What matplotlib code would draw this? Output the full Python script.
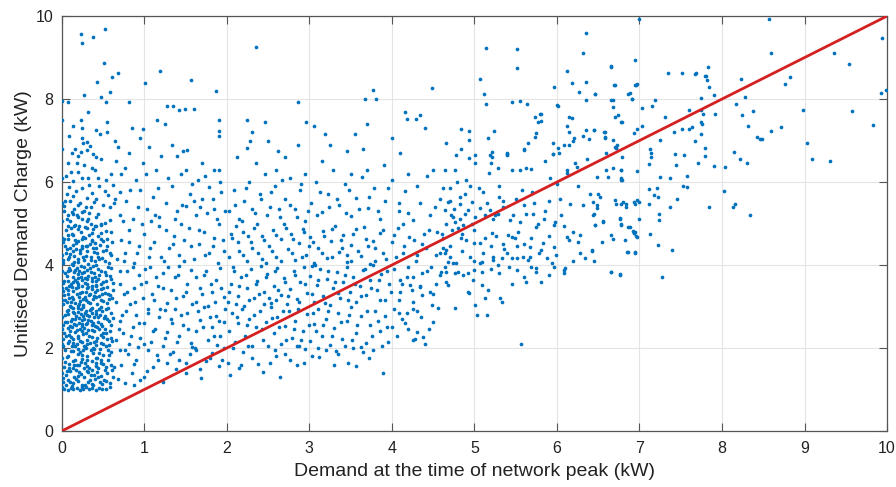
import numpy as np
import matplotlib.pyplot as plt

plt.rcParams['font.family'] = ['Liberation Sans', 'DejaVu Sans']

# points (demand at peak, unitised demand charge), kW
zero_col = [(0.0, 1.05), (0.0, 1.4), (0.0, 1.75), (0.0, 2.1), (0.0, 2.45), (0.0, 2.75), (0.0, 3.15),
            (0.0, 3.45), (0.0, 3.85), (0.0, 4.25), (0.0, 4.65), (0.0, 5.05), (0.0, 5.5), (0.0, 6.1),
            (0.0, 6.8), (0.0, 7.5)]

near_zero = [
    (0.03, 1.02), (0.07, 1.0), (0.11, 1.03), (0.14, 1.01), (0.18, 1.04), (0.22, 1.0), (0.26, 1.02),
    (0.29, 1.05), (0.33, 1.01), (0.37, 1.03), (0.41, 1.0), (0.45, 1.04), (0.49, 1.02), (0.53, 1.01), (0.58, 1.05),
    (0.02, 1.18), (0.05, 1.35), (0.08, 1.22), (0.10, 1.45), (0.13, 1.15), (0.15, 1.31), (0.17, 1.48), (0.2, 1.2),
    (0.23, 1.38), (0.25, 1.12), (0.27, 1.29), (0.3, 1.44), (0.32, 1.19), (0.35, 1.34), (0.38, 1.1), (0.4, 1.26),
    (0.43, 1.42), (0.46, 1.17), (0.48, 1.33), (0.51, 1.24), (0.55, 1.4), (0.58, 1.16), (0.62, 1.3), (0.12, 1.08),
    (0.36, 1.47),
    (0.03, 1.55), (0.06, 1.78), (0.09, 1.62), (0.11, 1.92), (0.14, 1.52), (0.16, 1.7), (0.19, 1.86), (0.21, 1.58),
    (0.24, 1.74), (0.26, 1.95), (0.28, 1.63), (0.31, 1.81), (0.33, 1.53), (0.36, 1.69), (0.38, 1.88), (0.41, 1.57),
    (0.43, 1.76), (0.46, 1.97), (0.48, 1.64), (0.5, 1.83), (0.53, 1.55), (0.56, 1.72), (0.59, 1.9), (0.04, 1.96),
    (0.18, 1.6), (0.29, 1.99), (0.44, 1.51), (0.22, 1.9),
    (0.02, 2.04), (0.05, 2.28), (0.07, 2.12), (0.1, 2.41), (0.12, 2.06), (0.14, 2.22), (0.16, 2.38), (0.18, 2.1),
    (0.2, 2.3), (0.22, 2.47), (0.24, 2.15), (0.26, 2.33), (0.28, 2.02), (0.3, 2.2), (0.32, 2.44), (0.34, 2.11),
    (0.36, 2.27), (0.39, 2.4), (0.41, 2.07), (0.43, 2.24), (0.45, 2.46), (0.48, 2.13), (0.5, 2.35), (0.53, 2.05),
    (0.55, 2.21), (0.58, 2.42), (0.61, 2.16), (0.09, 2.18), (0.27, 2.49), (0.38, 2.01),
    (0.02, 2.55), (0.04, 2.79), (0.06, 2.63), (0.08, 2.92), (0.1, 2.52), (0.12, 2.7), (0.13, 2.86), (0.15, 2.58),
    (0.17, 2.76), (0.19, 2.97), (0.21, 2.61), (0.23, 2.83), (0.25, 2.53), (0.27, 2.71), (0.29, 2.9), (0.31, 2.6),
    (0.33, 2.78), (0.35, 2.95), (0.37, 2.56), (0.39, 2.74), (0.42, 2.88), (0.44, 2.62), (0.46, 2.8), (0.49, 2.54),
    (0.51, 2.72), (0.54, 2.93), (0.57, 2.66), (0.6, 2.84), (0.11, 2.99), (0.24, 2.67), (0.36, 2.85), (0.47, 2.98),
    (0.01, 3.05), (0.03, 3.28), (0.06, 3.12), (0.08, 3.41), (0.1, 3.02), (0.12, 3.22), (0.14, 3.38), (0.16, 3.09),
    (0.18, 3.3), (0.2, 3.47), (0.22, 3.14), (0.24, 3.35), (0.26, 3.04), (0.28, 3.24), (0.3, 3.44), (0.32, 3.11),
    (0.34, 3.31), (0.36, 3.49), (0.38, 3.17), (0.4, 3.36), (0.43, 3.06), (0.45, 3.26), (0.47, 3.43), (0.5, 3.13),
    (0.52, 3.33), (0.55, 3.08), (0.58, 3.27), (0.62, 3.4), (0.09, 3.2), (0.19, 3.01), (0.29, 3.15), (0.41, 3.5),
    (0.02, 3.56), (0.04, 3.8), (0.07, 3.62), (0.09, 3.93), (0.11, 3.54), (0.13, 3.72), (0.16, 3.88), (0.18, 3.6),
    (0.2, 3.78), (0.23, 3.97), (0.25, 3.64), (0.27, 3.84), (0.3, 3.55), (0.32, 3.73), (0.34, 3.92), (0.37, 3.61),
    (0.39, 3.8), (0.42, 3.99), (0.44, 3.67), (0.47, 3.86), (0.5, 3.58), (0.53, 3.76), (0.56, 3.95), (0.6, 3.66),
    (0.14, 3.99), (0.28, 3.69), (0.41, 3.53), (0.21, 3.86),
    (0.02, 4.05), (0.05, 4.3), (0.07, 4.14), (0.1, 4.42), (0.12, 4.02), (0.15, 4.22), (0.17, 4.38), (0.2, 4.08),
    (0.22, 4.28), (0.25, 4.47), (0.27, 4.12), (0.3, 4.33), (0.32, 4.03), (0.35, 4.2), (0.38, 4.41), (0.4, 4.1),
    (0.43, 4.3), (0.46, 4.48), (0.49, 4.16), (0.53, 4.36), (0.57, 4.06), (0.6, 4.25), (0.13, 4.49), (0.29, 4.45),
    (0.02, 4.55), (0.05, 4.85), (0.08, 4.62), (0.1, 5.05), (0.13, 4.72), (0.15, 4.95), (0.18, 5.2), (0.2, 4.58),
    (0.23, 4.8), (0.25, 5.1), (0.28, 4.66), (0.3, 4.9), (0.33, 5.25), (0.36, 4.6), (0.38, 4.88), (0.41, 5.15),
    (0.44, 4.7), (0.47, 5.0), (0.5, 4.57), (0.54, 4.82), (0.58, 5.08), (0.12, 5.28), (0.27, 5.3), (0.4, 4.52),
]

near_zero_2 = [
    (0.05, 1.1), (0.09, 1.52), (0.13, 1.68), (0.17, 1.25), (0.21, 1.41), (0.25, 1.83), (0.28, 1.12), (0.31, 1.57),
    (0.35, 1.95), (0.39, 1.36), (0.42, 1.64), (0.45, 1.88), (0.49, 1.14), (0.52, 1.47), (0.56, 1.96), (0.6, 1.58),
    (0.04, 1.67), (0.19, 1.97), (0.34, 1.24), (0.47, 1.72),
    (0.03, 2.36), (0.06, 2.9), (0.08, 2.48), (0.11, 2.66), (0.13, 2.13), (0.15, 2.84), (0.17, 2.55), (0.19, 2.23),
    (0.21, 2.72), (0.23, 2.93), (0.25, 2.4), (0.27, 2.06), (0.29, 2.57), (0.31, 2.8), (0.33, 2.29), (0.35, 2.65),
    (0.37, 2.97), (0.4, 2.52), (0.42, 2.18), (0.44, 2.74), (0.47, 2.31), (0.49, 2.89), (0.52, 2.46), (0.55, 2.69),
    (0.57, 2.08), (0.6, 2.56), (0.16, 2.05), (0.28, 2.85), (0.38, 2.6), (0.5, 2.1),
    (0.03, 3.62), (0.05, 3.45), (0.07, 3.86), (0.09, 3.5), (0.11, 3.12), (0.13, 3.58), (0.15, 3.82), (0.17, 3.44),
    (0.19, 3.68), (0.21, 3.24), (0.23, 3.72), (0.25, 3.5), (0.27, 3.95), (0.29, 3.36), (0.31, 3.66), (0.33, 3.28),
    (0.35, 3.82), (0.37, 3.42), (0.4, 3.7), (0.42, 3.22), (0.44, 3.9), (0.47, 3.55), (0.49, 3.3), (0.52, 3.84),
    (0.55, 3.48), (0.57, 3.18), (0.6, 3.92), (0.62, 3.57),
    (0.04, 4.45), (0.07, 4.72), (0.09, 4.2), (0.11, 4.9), (0.14, 4.35), (0.16, 4.6), (0.19, 4.15), (0.21, 4.95),
    (0.24, 4.4), (0.26, 4.68), (0.29, 4.22), (0.31, 5.05), (0.34, 4.5), (0.37, 4.78), (0.39, 4.32), (0.42, 4.95),
    (0.45, 4.15), (0.48, 4.62), (0.52, 4.1), (0.55, 4.45), (0.59, 4.8), (0.2, 5.15), (0.07, 5.2), (0.35, 5.0),
]

near_zero_3 = [
    (0.02, 1.27), (0.06, 1.44), (0.1, 1.19), (0.15, 1.58), (0.19, 1.33), (0.24, 1.07), (0.27, 1.52), (0.32, 1.41),
    (0.36, 1.13), (0.41, 1.77), (0.44, 1.29), (0.5, 1.62), (0.54, 1.21), (0.57, 1.84), (0.61, 1.47), (0.08, 1.81),
    (0.13, 1.93), (0.23, 1.66), (0.3, 1.71), (0.39, 1.98),
    (0.01, 2.21), (0.04, 2.63), (0.07, 2.83), (0.09, 2.32), (0.12, 2.51), (0.14, 2.96), (0.16, 2.71), (0.18, 2.44),
    (0.2, 2.87), (0.22, 2.16), (0.24, 2.59), (0.26, 2.77), (0.29, 2.35), (0.31, 2.09), (0.32, 2.68), (0.34, 2.91),
    (0.36, 2.43), (0.39, 2.14), (0.41, 2.83), (0.43, 2.5), (0.45, 2.93), (0.47, 2.58), (0.5, 2.27), (0.52, 2.78),
    (0.54, 2.37), (0.56, 2.97), (0.59, 2.24), (0.62, 2.73), (0.11, 2.27), (0.26, 2.98),
    (0.02, 3.38), (0.04, 3.15), (0.06, 3.74), (0.08, 3.29), (0.1, 3.87), (0.12, 3.46), (0.14, 3.19), (0.16, 3.63),
    (0.18, 3.94), (0.2, 3.55), (0.22, 3.33), (0.24, 3.81), (0.26, 3.19), (0.28, 3.57), (0.3, 3.88), (0.32, 3.46),
    (0.34, 3.09), (0.36, 3.68), (0.38, 3.97), (0.39, 3.26), (0.41, 3.62), (0.43, 3.41), (0.45, 3.77), (0.48, 3.16),
    (0.5, 3.45), (0.53, 3.61), (0.56, 3.29), (0.58, 3.73), (0.61, 3.2), (0.21, 3.05),
    (0.01, 4.12), (0.03, 4.63), (0.06, 4.38), (0.08, 4.95), (0.1, 4.26), (0.12, 4.74), (0.15, 4.08), (0.17, 4.52),
    (0.19, 4.87), (0.22, 4.36), (0.24, 4.63), (0.26, 4.19), (0.28, 4.92), (0.31, 4.47), (0.33, 4.72), (0.35, 4.13),
    (0.37, 4.58), (0.4, 4.93), (0.42, 4.42), (0.44, 4.2), (0.47, 4.77), (0.5, 4.35), (0.52, 5.02), (0.55, 4.62),
    (0.58, 4.3), (0.61, 4.55), (0.06, 5.1), (0.14, 5.22), (0.25, 5.27), (0.32, 5.12), (0.44, 5.22), (0.16, 4.97),
    (0.48, 4.97), (0.03, 5.3),
    (0.04, 5.55), (0.09, 5.88), (0.14, 5.66), (0.2, 5.45), (0.24, 6.1), (0.29, 5.4), (0.33, 5.92), (0.39, 5.52),
    (0.44, 6.1), (0.52, 5.78), (0.58, 5.4), (0.62, 5.92), (0.18, 6.45), (0.41, 6.6), (0.11, 6.25),
]

near_zero_high = [
    (0.03, 5.42), (0.06, 5.7), (0.1, 5.55), (0.13, 6.02), (0.15, 5.35), (0.17, 5.78), (0.2, 6.25), (0.22, 5.5),
    (0.25, 5.85), (0.27, 6.4), (0.3, 5.62), (0.32, 6.1), (0.35, 5.4), (0.37, 5.74), (0.4, 6.3), (0.42, 5.58),
    (0.45, 5.9), (0.48, 6.55), (0.5, 5.45), (0.53, 6.05), (0.56, 5.68), (0.6, 6.2), (0.63, 5.5), (0.66, 6.5),
    (0.08, 6.45), (0.12, 6.7), (0.16, 6.8), (0.19, 6.62), (0.23, 6.72), (0.26, 6.95), (0.3, 6.78), (0.34, 6.88),
    (0.38, 6.68), (0.09, 7.1), (0.24, 7.06), (0.25, 7.3), (0.23, 7.5), (0.3, 6.97), (0.46, 7.15), (0.55, 7.45),
    (0.55, 7.2), (0.65, 7.0), (0.68, 6.85), (0.32, 7.7), (0.14, 7.35), (0.42, 7.25), (0.72, 6.2), (0.7, 5.75),
    (0.05, 6.15), (0.36, 6.35),
    (0.23, 9.56), (0.24, 9.36), (0.38, 9.5), (0.52, 9.69), (0.51, 8.87), (0.43, 8.4), (0.27, 8.1), (0.08, 7.93),
    (0.0, 7.96), (0.61, 8.52), (0.68, 8.62), (0.58, 8.18), (0.48, 8.06), (0.53, 7.93), (0.82, 7.92),
]

one_to_two = [
    (0.68, 1.25), (0.72, 1.6), (0.76, 1.15), (0.8, 1.85), (0.85, 1.4), (0.9, 1.7), (0.95, 1.22), (0.99, 1.3),
    (1.05, 1.95), (1.1, 1.55), (1.15, 1.82), (1.23, 1.19), (1.28, 1.65), (1.35, 1.9), (1.42, 1.72), (1.5, 1.4),
    (1.55, 1.85), (1.62, 1.95), (1.69, 1.27), (1.75, 1.68), (1.82, 1.88), (1.9, 1.56), (1.96, 1.99), (0.7, 1.95),
    (0.88, 1.1), (1.38, 1.5),
    (0.66, 2.2), (0.7, 2.65), (0.74, 2.35), (0.78, 2.9), (0.82, 2.1), (0.86, 2.5), (0.9, 2.8), (0.95, 2.25),
    (1.0, 2.6), (1.04, 2.95), (1.08, 2.15), (1.13, 2.45), (1.18, 2.75), (1.22, 2.05), (1.27, 2.38), (1.32, 2.7),
    (1.37, 2.95), (1.42, 2.28), (1.47, 2.55), (1.52, 2.85), (1.57, 2.12), (1.62, 2.42), (1.67, 2.68), (1.72, 2.98),
    (1.77, 2.2), (1.82, 2.5), (1.87, 2.78), (1.92, 2.3), (1.97, 2.62), (0.92, 2.02), (1.25, 2.92), (1.58, 2.02),
    (1.88, 2.08),
    (0.66, 3.1), (0.7, 3.55), (0.75, 3.3), (0.79, 3.85), (0.83, 3.05), (0.88, 3.45), (0.93, 3.75), (0.98, 3.2),
    (1.02, 3.6), (1.07, 3.95), (1.12, 3.15), (1.17, 3.5), (1.22, 3.8), (1.27, 3.08), (1.32, 3.4), (1.37, 3.7),
    (1.42, 3.98), (1.47, 3.25), (1.52, 3.55), (1.57, 3.88), (1.62, 3.12), (1.67, 3.45), (1.72, 3.75), (1.77, 3.02),
    (1.82, 3.35), (1.87, 3.65), (1.92, 3.92), (1.97, 3.22),
    (0.67, 4.15), (0.72, 4.6), (0.77, 4.3), (0.82, 4.85), (0.88, 4.05), (0.94, 4.45), (1.0, 4.75), (1.06, 4.2),
    (1.12, 4.55), (1.18, 4.95), (1.24, 4.1), (1.3, 4.4), (1.36, 4.7), (1.42, 4.25), (1.48, 4.6), (1.54, 4.9),
    (1.6, 4.15), (1.66, 4.5), (1.72, 4.8), (1.78, 4.3), (1.84, 4.65), (1.9, 4.98), (1.96, 4.35),
    (0.7, 5.2), (0.78, 5.55), (0.86, 5.1), (0.95, 5.8), (1.03, 5.35), (1.1, 5.65), (1.18, 5.15), (1.26, 5.5),
    (1.33, 5.9), (1.4, 5.3), (1.46, 5.45), (1.5, 5.42), (1.55, 5.7), (1.62, 5.2), (1.7, 5.6), (1.78, 5.88),
    (1.85, 5.35), (1.93, 5.75), (0.9, 6.05),
    (0.76, 6.35), (0.82, 6.7), (0.98, 6.45), (1.06, 6.85), (1.14, 6.3), (1.2, 6.62), (1.34, 6.9), (1.39, 6.63),
    (1.47, 6.75), (1.52, 6.77), (1.5, 6.3), (1.65, 6.05), (1.85, 6.3), (1.9, 6.3), (1.7, 6.45), (1.27, 7.83),
    (1.35, 7.83), (1.42, 7.74), (1.49, 7.75), (1.6, 7.75), (1.15, 7.49), (1.25, 7.41), (1.9, 7.1), (1.9, 7.23),
    (1.9, 7.5), (1.01, 8.39), (1.19, 8.68), (1.57, 8.47), (1.87, 8.2), (0.95, 7.05), (0.98, 7.27), (0.85, 7.3),
]

one_to_two_b = [
    (0.63, 1.55), (0.69, 2.45), (0.71, 3.85), (0.73, 2.8), (0.75, 4.1), (0.77, 1.95), (0.79, 3.35), (0.81, 4.55),
    (0.84, 2.3), (0.86, 3.95), (0.87, 1.62), (0.89, 3.1), (0.91, 4.3), (0.93, 2.6), (0.96, 3.55), (0.97, 5.0),
    (1.0, 2.1), (1.01, 3.9), (1.03, 1.45), (1.05, 2.85), (1.07, 4.4), (1.09, 3.3), (1.11, 2.4), (1.13, 5.2),
    (1.14, 3.7), (1.16, 1.7), (1.19, 2.95), (1.2, 4.2), (1.23, 3.45), (1.25, 2.25), (1.26, 4.85), (1.29, 3.95),
    (1.31, 1.85), (1.33, 2.6), (1.35, 4.5), (1.38, 3.2), (1.4, 2.15), (1.41, 3.75), (1.44, 5.0), (1.45, 2.8),
    (1.48, 4.1), (1.5, 1.65), (1.51, 3.35), (1.53, 2.45), (1.56, 4.45), (1.58, 3.05), (1.6, 5.55), (1.61, 2.0),
    (1.63, 3.7), (1.65, 2.9), (1.66, 4.85), (1.68, 1.5), (1.7, 3.3), (1.71, 2.5), (1.73, 4.25), (1.75, 3.85),
    (1.76, 5.25), (1.79, 2.75), (1.8, 1.75), (1.81, 3.55), (1.83, 4.45), (1.85, 2.3), (1.86, 3.1), (1.88, 5.1),
    (1.89, 4.05), (1.91, 2.65), (1.93, 3.45), (1.94, 1.7), (1.95, 4.6), (1.98, 2.95), (0.65, 5.6), (0.74, 5.05),
    (0.83, 5.8), (0.92, 5.4), (1.02, 6.2), (1.08, 5.05), (1.17, 5.85), (1.29, 6.1), (1.37, 5.1), (1.45, 6.2),
    (1.58, 5.95), (1.67, 5.4), (1.74, 6.15), (1.83, 5.6), (1.92, 6.0), (1.98, 5.3),
]

two_to_five = [
    (2.04, 1.36), (2.15, 1.52), (2.44, 1.43), (2.52, 1.63), (2.64, 1.3), (2.3, 1.75), (2.7, 1.85), (2.85, 1.6),
    (3.03, 1.81), (3.2, 1.95), (3.47, 1.63), (3.57, 1.57), (3.89, 1.39), (3.53, 1.99), (3.77, 1.96), (2.2, 1.9),
    (2.95, 1.98), (3.35, 1.85), (2.58, 1.95), (3.65, 1.9),
    (2.02, 2.4), (2.06, 2.85), (2.1, 2.15), (2.14, 2.6), (2.18, 2.95), (2.22, 2.3), (2.27, 2.7), (2.31, 2.05),
    (2.35, 2.5), (2.4, 2.88), (2.44, 2.2), (2.48, 2.62), (2.53, 2.98), (2.57, 2.35), (2.61, 2.75), (2.66, 2.1),
    (2.7, 2.52), (2.75, 2.9), (2.79, 2.25), (2.83, 2.66), (2.88, 2.04), (2.92, 2.42), (2.97, 2.82), (3.01, 2.18),
    (3.06, 2.58), (3.1, 2.95), (3.15, 2.3), (3.2, 2.7), (3.25, 2.08), (3.3, 2.48), (3.35, 2.85), (3.4, 2.22),
    (3.45, 2.64), (3.5, 2.98), (3.56, 2.35), (3.62, 2.76), (3.68, 2.12), (3.74, 2.55), (3.8, 2.9), (3.86, 2.4),
    (3.92, 2.78), (4.0, 2.5), (4.08, 2.85), (4.16, 2.6), (4.25, 2.95), (4.35, 2.75), (4.28, 2.21), (4.4, 2.1),
    (4.45, 2.45), (3.95, 2.15),
    (2.01, 3.1), (2.05, 3.55), (2.09, 3.85), (2.13, 3.25), (2.17, 3.7), (2.21, 3.02), (2.25, 3.45), (2.29, 3.9),
    (2.33, 3.2), (2.37, 3.62), (2.41, 3.98), (2.45, 3.35), (2.49, 3.78), (2.53, 3.08), (2.57, 3.5), (2.61, 3.92),
    (2.65, 3.28), (2.69, 3.68), (2.73, 3.05), (2.77, 3.42), (2.81, 3.86), (2.85, 3.18), (2.89, 3.6), (2.93, 3.95),
    (2.97, 3.32), (3.01, 3.74), (3.05, 3.12), (3.09, 3.52), (3.13, 3.9), (3.17, 3.26), (3.21, 3.66), (3.25, 3.04),
    (3.29, 3.44), (3.33, 3.82), (3.37, 3.2), (3.41, 3.58), (3.45, 3.96), (3.49, 3.36), (3.53, 3.72), (3.57, 3.1),
    (3.61, 3.5), (3.65, 3.88), (3.69, 3.28), (3.73, 3.64), (3.77, 3.99), (3.82, 3.4), (3.87, 3.78), (3.92, 3.15),
    (3.97, 3.55), (4.03, 3.9), (4.1, 3.35), (4.18, 3.7), (4.26, 3.1), (4.34, 3.5), (4.42, 3.85), (4.5, 3.3),
    (4.58, 3.75), (4.66, 3.6), (2.59, 3.15), (3.03, 3.98),
    (2.02, 4.2), (2.06, 4.65), (2.11, 4.95), (2.15, 4.35), (2.2, 4.8), (2.24, 4.1), (2.29, 4.55), (2.33, 4.9),
    (2.38, 4.28), (2.42, 4.7), (2.47, 4.05), (2.51, 4.45), (2.56, 4.85), (2.6, 4.2), (2.65, 4.62), (2.69, 4.98),
    (2.74, 4.38), (2.78, 4.75), (2.83, 4.12), (2.87, 4.52), (2.92, 4.88), (2.96, 4.25), (3.01, 4.68), (3.06, 4.05),
    (3.11, 4.42), (3.16, 4.82), (3.21, 4.18), (3.26, 4.58), (3.31, 4.95), (3.36, 4.32), (3.41, 4.72), (3.46, 4.08),
    (3.51, 4.48), (3.56, 4.86), (3.62, 4.22), (3.68, 4.62), (3.74, 4.02), (3.8, 4.4), (3.86, 4.78), (3.93, 4.15),
    (4.0, 4.55), (4.07, 4.9), (4.14, 4.3), (4.21, 4.68), (4.29, 4.1), (4.37, 4.5), (4.45, 4.85), (4.53, 4.25),
    (4.62, 4.65), (4.7, 4.45), (4.8, 4.9), (4.9, 4.6),
    (2.03, 5.3), (2.09, 5.8), (2.15, 5.1), (2.21, 5.55), (2.27, 6.0), (2.34, 5.25), (2.4, 5.7), (2.46, 6.2),
    (2.52, 5.4), (2.58, 5.9), (2.64, 5.15), (2.7, 5.6), (2.77, 6.1), (2.83, 5.35), (2.89, 5.8), (2.95, 5.05),
    (3.02, 5.5), (3.08, 6.0), (3.15, 5.28), (3.22, 5.72), (3.29, 6.3), (3.36, 5.45), (3.43, 5.95), (3.5, 5.18),
    (3.57, 5.62), (3.64, 6.12), (3.71, 5.38), (3.78, 5.85), (3.85, 5.12), (3.92, 5.55), (4.0, 6.05), (4.08, 5.3),
    (4.16, 5.78), (4.25, 5.08), (4.34, 5.5), (4.43, 6.15), (4.52, 5.4), (4.62, 5.85), (4.72, 5.2), (4.82, 5.65),
    (2.35, 6.45), (3.15, 6.5), (3.9, 6.4), (4.5, 6.3),
    (2.35, 9.26), (2.25, 7.5), (2.3, 7.2), (2.28, 7.0), (2.25, 6.83), (2.46, 7.45), (2.5, 7.0), (2.86, 7.93),
    (2.86, 6.9), (2.12, 6.6), (2.62, 6.75), (2.96, 7.44), (3.05, 7.35), (3.19, 7.16), (3.25, 6.9), (3.77, 8.22),
    (3.67, 8.0), (3.81, 8.0), (4.49, 8.26), (4.16, 7.68), (4.18, 7.53), (4.29, 7.53), (4.34, 7.61), (3.7, 7.4),
    (3.65, 6.8), (4.0, 7.05), (4.4, 7.3), (4.65, 6.95), (3.55, 7.15), (4.1, 6.7), (2.7, 6.6), (3.45, 6.75),
    (4.08, 3.16), (4.18, 2.84), (4.3, 2.39), (4.26, 2.19), (4.38, 2.27), (4.12, 3.54), (4.22, 3.52), (4.34, 3.48),
    (4.36, 3.28), (4.46, 3.36), (4.48, 3.04), (4.5, 2.63), (4.56, 2.96),
]

two_to_five_b = [
    (2.01, 1.65), (2.08, 2.0), (2.12, 2.75), (2.17, 1.6), (2.24, 2.55), (2.26, 2.05), (2.33, 2.8), (2.38, 1.62),
    (2.42, 2.45), (2.5, 2.05), (2.55, 2.72), (2.6, 1.8), (2.63, 2.5), (2.68, 2.9), (2.72, 2.2), (2.77, 1.72),
    (2.81, 2.45), (2.86, 2.95), (2.9, 2.2), (2.94, 1.65), (2.99, 2.55), (3.04, 2.85), (3.08, 2.4), (3.12, 1.78),
    (3.17, 2.55), (3.22, 2.9), (3.27, 2.3), (3.32, 1.92), (3.38, 2.62), (3.43, 2.05), (3.48, 2.8), (3.52, 2.2),
    (3.58, 2.55), (3.63, 2.02), (3.7, 2.9), (3.76, 2.3), (3.83, 2.65), (3.88, 2.05), (3.94, 2.5), (4.02, 2.95),
    (4.06, 2.3), (4.12, 2.7), (4.2, 2.45), (4.3, 2.9), (3.3, 1.6), (3.72, 1.75), (3.1, 2.0), (2.85, 2.05),
    (2.03, 3.35), (2.07, 3.95), (2.11, 3.05), (2.15, 3.5), (2.19, 4.25), (2.23, 3.75), (2.27, 3.15), (2.31, 4.4),
    (2.35, 3.55), (2.39, 3.3), (2.43, 4.15), (2.47, 3.7), (2.51, 3.2), (2.55, 4.35), (2.58, 3.85), (2.62, 3.4),
    (2.66, 4.1), (2.7, 3.6), (2.74, 3.25), (2.79, 4.3), (2.83, 3.75), (2.87, 3.1), (2.91, 4.2), (2.95, 3.55),
    (2.99, 4.45), (3.03, 3.3), (3.07, 4.0), (3.11, 3.65), (3.15, 4.3), (3.19, 3.08), (3.23, 3.85), (3.27, 4.2),
    (3.31, 3.6), (3.35, 3.32), (3.39, 4.4), (3.43, 3.75), (3.47, 3.15), (3.51, 4.1), (3.55, 3.55), (3.59, 4.35),
    (3.63, 3.25), (3.67, 3.9), (3.71, 4.45), (3.75, 3.45), (3.79, 4.1), (3.84, 3.65), (3.89, 4.3), (3.94, 3.85),
    (3.99, 3.35), (4.05, 4.2), (4.1, 3.65), (4.15, 4.45), (4.2, 3.95), (4.24, 3.4), (4.3, 4.25), (4.36, 3.8),
    (4.41, 4.4), (4.47, 3.95), (4.53, 3.55), (4.58, 4.3), (4.64, 3.95), (4.7, 4.2), (4.78, 4.05), (2.45, 3.05),
    (3.45, 4.25), (3.85, 3.15), (4.25, 3.7),
    (2.05, 4.75), (2.1, 5.45), (2.13, 4.55), (2.18, 5.05), (2.23, 5.85), (2.26, 4.7), (2.3, 5.35), (2.36, 4.98),
    (2.41, 5.6), (2.45, 4.6), (2.49, 5.2), (2.54, 5.75), (2.59, 4.72), (2.63, 5.35), (2.67, 6.05), (2.72, 4.9),
    (2.76, 5.45), (2.8, 4.62), (2.85, 5.15), (2.9, 5.95), (2.94, 4.8), (2.98, 5.3), (3.04, 4.55), (3.09, 5.2),
    (3.13, 5.75), (3.18, 4.7), (3.24, 5.4), (3.28, 4.88), (3.33, 5.6), (3.38, 4.6), (3.44, 5.25), (3.48, 5.8),
    (3.53, 4.75), (3.6, 5.35), (3.66, 4.92), (3.72, 5.65), (3.77, 4.58), (3.83, 5.3), (3.89, 4.85), (3.95, 5.85),
    (4.02, 4.72), (4.09, 5.5), (4.13, 4.98), (4.2, 5.25), (4.27, 4.6), (4.31, 5.9), (4.39, 4.75), (4.46, 5.2),
    (4.55, 4.8), (4.58, 5.6), (4.66, 5.0), (4.75, 5.35), (4.85, 4.75), (4.95, 5.9), (2.6, 6.3), (2.95, 6.2),
    (3.5, 6.2), (3.7, 6.3), (4.2, 6.2),
]

five_to_seven = [
    (4.62, 4.4), (4.66, 4.36), (4.64, 4.28), (4.68, 4.08), (4.74, 4.04), (4.6, 3.84), (4.66, 3.84), (4.76, 3.8),
    (4.8, 3.84), (4.86, 3.76), (4.92, 3.8), (4.99, 3.88), (4.98, 3.64), (5.09, 3.84), (4.68, 3.52), (5.09, 3.52),
    (5.17, 3.4), (5.13, 3.2), (4.92, 3.36), (4.94, 3.32), (5.31, 3.2), (5.34, 3.12), (5.01, 3.04), (4.76, 2.96),
    (5.03, 2.8), (5.15, 2.8), (5.57, 2.1),
    (5.23, 4.2), (5.23, 4.12), (5.33, 4.16), (5.39, 4.28), (5.45, 4.16), (5.51, 4.16), (5.59, 4.2), (5.65, 4.12),
    (5.67, 4.2), (5.51, 3.88), (5.75, 3.84), (5.88, 4.16), (5.94, 4.04), (5.96, 3.96), (6.08, 3.88), (6.1, 3.92),
    (5.81, 3.6), (5.75, 3.92), (5.69, 3.96), (5.67, 4.44), (5.83, 4.52), (5.96, 4.44), (5.81, 4.36), (5.45, 4.68),
    (5.49, 4.64), (5.41, 4.72), (5.53, 4.8), (5.75, 4.92), (5.77, 5.0), (5.98, 5.04), (5.96, 4.96), (5.71, 5.24),
    (5.63, 5.24), (5.55, 5.04), (5.43, 5.08), (5.25, 5.2), (5.21, 4.76), (5.13, 4.64), (5.07, 4.52), (4.99, 4.52),
    (5.09, 4.08), (5.07, 4.04),
    (6.12, 4.68), (6.14, 4.6), (6.2, 4.8), (6.28, 4.72), (6.26, 4.56), (6.28, 4.28), (6.42, 4.36), (6.34, 4.16),
    (6.08, 3.8), (6.44, 5.2), (6.46, 4.96), (6.56, 5.04), (6.66, 4.72), (6.76, 5.12), (6.78, 4.96), (6.86, 4.92),
    (6.93, 4.76), (6.95, 4.8), (6.97, 4.68), (6.86, 4.32), (6.95, 4.32), (6.66, 3.84), (6.76, 3.76), (6.16, 5.48),
    (6.31, 5.44), (6.48, 5.44), (6.72, 5.48), (6.78, 5.48), (6.84, 5.4), (6.95, 5.48),
    (4.64, 5.33), (4.74, 5.16), (4.76, 5.04), (4.82, 5.12), (4.88, 5.24), (4.92, 5.33), (4.86, 4.96), (4.97, 5.0),
    (5.01, 5.16), (5.07, 5.37), (5.13, 5.2), (5.19, 5.33), (5.23, 5.12), (5.29, 5.24), (5.35, 5.4), (4.68, 5.53),
    (4.82, 5.48), (4.97, 5.53),
    (4.84, 7.29), (4.93, 7.24), (4.94, 7.01), (5.24, 7.24), (5.17, 7.05), (4.84, 6.79), (4.78, 6.64), (5.01, 6.65),
    (5.01, 6.45), (5.21, 6.73), (5.21, 6.61), (5.39, 6.69), (5.4, 6.64), (4.94, 6.57), (4.64, 6.29), (4.76, 6.29),
    (5.18, 6.21), (5.29, 6.33), (5.45, 6.29), (5.55, 6.29), (5.62, 6.33), (5.69, 6.31), (5.6, 6.79), (5.65, 6.93),
    (5.75, 7.19), (5.81, 7.64), (5.81, 7.47), (5.73, 7.56), (5.95, 6.93), (6.01, 6.83), (6.03, 6.69), (6.08, 6.89),
    (5.95, 6.67), (5.85, 6.51), (6.12, 7.36), (6.14, 7.21), (6.2, 6.99), (6.27, 8.18), (6.35, 7.98), (6.35, 7.25),
    (6.45, 7.25), (6.32, 7.11), (6.39, 7.03), (6.36, 6.55), (6.22, 6.47), (6.24, 6.37), (6.12, 6.3), (6.12, 6.21),
    (6.46, 8.13), (6.57, 7.21), (6.58, 7.05), (6.68, 7.01), (6.72, 6.81), (6.73, 6.89), (6.78, 6.29), (6.78, 6.09),
    (6.79, 6.05), (6.48, 6.11), (6.62, 6.11), (6.68, 6.33), (6.6, 6.29), (6.7, 7.57), (6.78, 7.45), (6.86, 8.13),
    (6.91, 8.01), (6.95, 8.34), (6.97, 8.36), (5.97, 8.3), (6.0, 7.86), (6.65, 8.8), (6.7, 8.34), (6.66, 7.98),
    (6.68, 7.81),
    (5.14, 9.22), (5.51, 9.2), (5.52, 8.74), (5.07, 8.48), (5.12, 8.11), (5.14, 7.88), (5.45, 7.93), (5.55, 7.96),
    (5.64, 7.88), (6.01, 7.83), (6.12, 8.67), (6.18, 8.38), (6.31, 9.1), (6.35, 9.6), (6.35, 8.4), (6.14, 7.57),
    (6.18, 7.55), (5.8, 7.64), (5.77, 7.45), (5.74, 7.09), (5.39, 6.67), (5.19, 6.65), (5.2, 6.45), (5.6, 6.77),
    (5.95, 6.67), (6.15, 6.9), (6.21, 7.06),
    (4.7, 5.85), (4.9, 6.05), (5.1, 5.75), (5.3, 5.9), (5.5, 5.6), (5.7, 5.75), (5.9, 5.55), (6.0, 5.95),
    (5.35, 5.55), (5.6, 5.45), (5.85, 5.3), (6.05, 5.2), (5.2, 4.45), (5.35, 4.5), (5.6, 4.5), (5.3, 3.8),
    (5.45, 3.55), (5.6, 3.7), (5.9, 3.75), (6.2, 4.1), (6.45, 4.1), (6.55, 4.55), (6.4, 5.7), (6.25, 5.9),
    (4.61, 4.75), (4.7, 5.55), (4.73, 4.85), (4.79, 6.0), (4.84, 4.65), (4.88, 5.7), (4.95, 4.2), (5.0, 4.85),
    (5.05, 5.85), (5.1, 4.3), (5.15, 5.5), (5.2, 3.9), (5.26, 4.7), (5.3, 5.65), (5.36, 4.38), (5.42, 3.95),
    (5.47, 5.2), (5.52, 4.45), (5.58, 5.8), (5.62, 3.6), (5.68, 4.65), (5.72, 5.5), (5.78, 4.3), (5.84, 5.1),
    (5.9, 4.7), (5.92, 6.1), (5.99, 4.25), (6.04, 5.6), (6.09, 4.95), (5.0, 4.1), (5.28, 4.0), (4.85, 4.35),
]

seven_to_ten = [
    (6.42, 4.34), (6.85, 4.32), (6.95, 4.29), (7.23, 4.48), (7.39, 4.36), (6.66, 3.82), (6.76, 3.78), (7.27, 3.7),
    (7.0, 9.92), (8.57, 9.94), (8.59, 9.12), (9.36, 9.12), (9.54, 8.84), (9.94, 9.48), (9.99, 8.22), (9.93, 8.14),
    (9.57, 7.71), (9.83, 7.37), (8.98, 7.73), (9.03, 6.93), (9.09, 6.55), (9.31, 6.5), (8.76, 8.36), (8.83, 8.54),
    (8.23, 8.48), (8.28, 8.06), (8.17, 7.88), (8.24, 7.61), (8.38, 7.71), (8.32, 7.36), (8.42, 7.09), (8.46, 7.03),
    (8.49, 7.03), (8.59, 7.23), (8.72, 7.33), (8.14, 6.73), (8.22, 6.55), (8.3, 6.47), (8.04, 6.37), (8.02, 5.79),
    (8.16, 5.47), (8.13, 5.41), (8.34, 5.2), (7.84, 5.39), (6.65, 8.78), (6.95, 8.94), (6.69, 8.34), (6.96, 8.34),
    (6.46, 8.12), (6.88, 8.15), (6.91, 8.01), (6.68, 7.98), (7.34, 8.63), (7.51, 8.62), (7.67, 8.6), (7.69, 8.62),
    (7.79, 8.55), (7.81, 8.55), (7.82, 8.46), (7.83, 8.78), (7.84, 8.3), (7.74, 8.03), (7.9, 8.1), (7.15, 7.83),
    (7.19, 7.98), (7.03, 7.79), (7.6, 7.73), (7.75, 7.73), (7.77, 7.65), (7.92, 7.65), (7.31, 7.56), (6.74, 7.61),
    (6.79, 7.45), (6.45, 7.25), (6.58, 7.21), (6.58, 7.09), (6.7, 6.85), (6.72, 6.81), (6.59, 6.71), (6.93, 7.17),
    (6.97, 7.27), (7.03, 7.35), (7.25, 7.01), (7.52, 7.29), (7.6, 7.29), (7.64, 7.33), (7.42, 7.21), (7.75, 7.45),
    (7.76, 7.41), (7.67, 6.99), (7.75, 7.15), (7.79, 6.81), (7.79, 6.63), (7.71, 6.47), (7.9, 6.39), (7.13, 6.8),
    (7.14, 6.69), (7.14, 6.61), (7.11, 6.43), (7.43, 6.67), (7.54, 6.65), (7.44, 6.41), (7.25, 6.13), (7.37, 6.09),
    (7.58, 6.15), (7.53, 5.91), (7.57, 5.89), (7.45, 5.58), (7.37, 5.41), (7.24, 5.24), (7.24, 5.08), (7.12, 5.83),
    (7.21, 5.86), (7.18, 5.69), (7.22, 5.65), (7.12, 5.48), (7.13, 4.74), (7.0, 5.1), (6.97, 6.27), (6.79, 6.61),
    (6.78, 6.29), (6.78, 6.05), (6.7, 5.57), (6.8, 5.53), (6.84, 5.48), (6.93, 5.53), (6.97, 5.57), (7.0, 5.53),
    (6.76, 5.13), (6.78, 5.0), (6.88, 4.92), (6.92, 4.83), (6.93, 4.76), (6.96, 4.7), (6.5, 5.71), (6.52, 5.65),
    (6.44, 5.52), (6.48, 5.37), (6.45, 5.22), (6.46, 4.96), (6.56, 5.06), (6.68, 4.62), (6.83, 4.6),
]

line_x = [0, 10]
line_y = [0, 10]

groups = [zero_col, near_zero, near_zero_2, near_zero_3, near_zero_high, one_to_two, one_to_two_b,
          two_to_five, two_to_five_b, five_to_seven, seven_to_ten]
pts = np.array([p for g in groups for p in g])

fig = plt.figure(figsize=(8.96, 4.87), dpi=100)
ax = fig.add_axes([0.069, 0.115, 0.921, 0.852])

ax.scatter(pts[:, 0], pts[:, 1], s=7, color='#0072bd', linewidths=0, zorder=3)
ax.plot(line_x, line_y, color='#d42020', lw=2, zorder=4)

ax.set_xlim(0, 10)
ax.set_ylim(0, 10)
ax.set_xticks(range(0, 11))
ax.set_yticks(range(0, 11, 2))
ax.grid(True, color='#e4e4e4', lw=0.8, zorder=0)
ax.tick_params(direction='in', length=6, width=0.8, color='#555555', labelsize=11.5,
               top=True, right=True, labelcolor='#222222')
ax.tick_params(axis='x', pad=7)
ax.tick_params(axis='y', pad=6)
for s in ax.spines.values():
    s.set_color('#555555')
    s.set_linewidth(0.9)

ax.set_xlabel('Demand at the time of network peak (kW)', fontsize=14, color='#222222', labelpad=5)
ax.set_ylabel('Unitised Demand Charge (kW)', fontsize=14, color='#222222', labelpad=3)

fig.savefig('out.png', dpi=100)
